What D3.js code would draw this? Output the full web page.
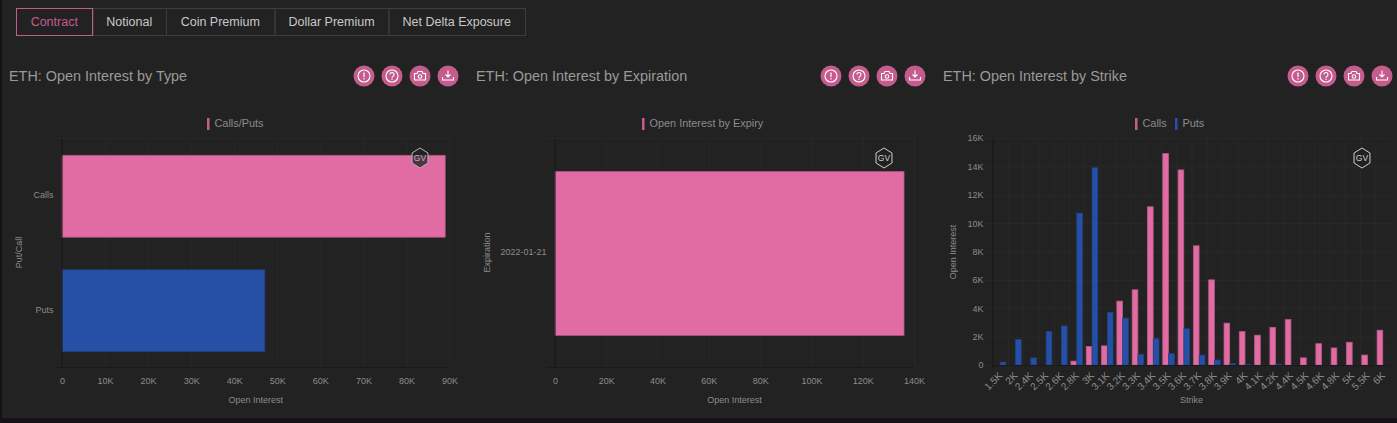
<!DOCTYPE html>
<html><head><meta charset="utf-8">
<script src="https://cdn.jsdelivr.net/npm/d3@7/dist/d3.min.js"></script>
<style>html,body{margin:0;padding:0;background:#141214;overflow:hidden}svg{display:block}text{font-family:"Liberation Sans",Arial,sans-serif}</style>
</head><body><svg id="c" width="1397" height="423"></svg>
<script>
const tabs=["Contract","Notional","Coin Premium","Dollar Premium","Net Delta Exposure"];
const typeCategories=["Calls","Puts"];
const typeValues=[89000,47100];
const expiryCategories=["2022-01-21"];
const expiryValues=[136100];
const strikes=["1.5K","2K","2.4K","2.5K","2.6K","2.8K","3K","3.1K","3.2K","3.3K","3.4K","3.5K","3.6K","3.7K","3.8K","3.9K","4K","4.1K","4.2K","4.4K","4.5K","4.6K","4.8K","5K","5.5K","6K"];
const strikeCalls=[0,0,0,0,0,270,1300,1350,4500,5300,11150,14900,13750,8400,6000,2950,2350,2100,2650,3200,500,1500,1200,1600,700,2450];
const strikePuts=[200,1800,500,2350,2750,10700,13900,3700,3300,750,1850,800,2550,700,350,100,30,0,50,0,0,0,0,0,0,0];

const PINK="#e06ca3",BLUE="#2650a5",ICON="#c55c8e",GRID="#282828",DOMAIN="#1a1a1a",TXT="#8c8c8c";
const svg=d3.select("#c");
const fmt=v=>v===0?"0":(v/1000)+"K";
svg.append("rect").attr("x",2).attr("y",0).attr("width",1395).attr("height",418).attr("fill","#222222");

// tabs
const tabEdges=[16,92.5,166,274.5,388.5,525];
const tg=svg.append("g");
tabs.forEach((t,i)=>{
  const a=tabEdges[i],b=tabEdges[i+1];
  tg.append("rect").attr("x",a+.5).attr("y",8.5).attr("width",b-a).attr("height",27).attr("fill","none").attr("stroke","#3d3d3d");
  tg.append("text").attr("x",(a+b)/2).attr("y",26).attr("text-anchor","middle").attr("font-size",12.5).attr("fill",i==0?"#c55c8e":"#c8c8c8").text(t);
});
tg.append("rect").attr("x",16.5).attr("y",8.5).attr("width",76).attr("height",27).attr("fill","none").attr("stroke","#c55c8e");

function icons(x0){
  const g=svg.append("g").attr("transform",`translate(${x0},76)`);
  [0,28,56,84].forEach((dx,i)=>{
    const h=g.append("g").attr("transform",`translate(${dx},0)`);
    h.append("circle").attr("r",10.5).attr("fill",ICON);
    const st={fill:"none",stroke:"#fff","stroke-width":1.1};
    const ap=s=>{for(const k in st)s.attr(k,st[k]);return s};
    if(i==0){ap(h.append("circle").attr("r",6));h.append("rect").attr("x",-.6).attr("y",-3.5).attr("width",1.2).attr("height",4.5).attr("fill","#fff");h.append("circle").attr("cy",2.8).attr("r",.8).attr("fill","#fff");}
    if(i==1){ap(h.append("circle").attr("r",6));ap(h.append("path").attr("d","M-2,-1.5a2,2 0 1 1 3.2,1.6c-.8,.6 -1.2,1 -1.2,1.8"));h.append("circle").attr("cy",3.2).attr("r",.7).attr("fill","#fff");}
    if(i==2){ap(h.append("path").attr("d","M-5.5,-2.5h2.5l1,-2h4l1,2h2.5v6.5h-11z"));ap(h.append("circle").attr("cy",.5).attr("r",1.8));}
    if(i==3){ap(h.append("path").attr("d","M0,-5.5v6M-2.5,-1.5L0,1L2.5,-1.5M-5.5,1v3h11v-3"));}
  });
}
function logo(cx,cy,col){
  const g=svg.append("g").attr("transform",`translate(${cx},${cy})`);
  const r=10,pts=d3.range(6).map(i=>{const a=Math.PI/3*i-Math.PI/2;return [r*Math.cos(a)*.92,r*Math.sin(a)]});
  g.append("path").attr("d",d3.line()(pts)+"Z").attr("fill","#222").attr("fill-opacity",.75).attr("stroke",col).attr("stroke-width",1);
  g.append("text").attr("y",3).attr("text-anchor","middle").attr("font-size",8.5).attr("fill",col).text("GV");
}
function head(x,title,iconX){
  svg.append("text").attr("x",x).attr("y",81).attr("font-size",14.4).attr("fill","#9a9a9a").text(title);
  icons(iconX);
}
function legend(items){
  items.forEach(d=>{
    svg.append("rect").attr("x",d.x).attr("y",118).attr("width",2.5).attr("height",12).attr("fill",d.c);
    svg.append("text").attr("x",d.x+7.5).attr("y",127).attr("font-size",10.9).attr("fill",TXT).text(d.t);
  });
}
function styleAxis(g){
  g.selectAll("text").attr("fill",TXT).attr("font-size",9).attr("font-family",'"Liberation Sans",Arial,sans-serif');
  g.selectAll(".domain").attr("stroke",DOMAIN);
  g.selectAll(".tick line").attr("stroke",GRID);
}
function hChart(o){
  const g=svg.append("g");
  const x=d3.scaleLinear().domain([0,o.max]).range([o.x0,o.x1]);
  const y=d3.scaleBand().domain(o.cats).range([o.top+1,o.bottom+1]).paddingInner(o.pad).paddingOuter(o.pad/2);
  g.selectAll("line.gx").data(x.ticks(o.n)).join("line").attr("x1",d=>x(d)+.5).attr("x2",d=>x(d)+.5).attr("y1",o.top).attr("y2",o.bottom).attr("stroke",d=>d==0?DOMAIN:GRID);
  g.append("line").attr("x1",o.x0-8).attr("x2",o.x1).attr("y1",o.top+.5).attr("y2",o.top+.5).attr("stroke",GRID);
  g.selectAll("rect.b").data(o.vals).join("rect").attr("x",o.x0).attr("y",(d,i)=>y(o.cats[i])).attr("width",d=>x(d)-o.x0).attr("height",y.bandwidth()).attr("fill",(d,i)=>o.cols[i]).attr("stroke",(d,i)=>d3.color(o.cols[i]).darker(.6)).attr("stroke-width",.8);
  const ax=g.append("g").attr("transform",`translate(0,${o.bottom+.5})`).call(d3.axisBottom(x).ticks(o.n).tickFormat(fmt).tickSize(0).tickPadding(10));
  styleAxis(ax);ax.select(".domain").attr("d",`M${o.x0-8},0H${o.x1}`);
  const ay=g.append("g").attr("transform",`translate(${o.x0-.5},-1)`).call(d3.axisLeft(y).tickSize(0).tickPadding(8));
  styleAxis(ay);
  g.append("text").attr("x",(o.x0+o.x1)/2).attr("y",403).attr("text-anchor","middle").attr("font-size",9).attr("fill",TXT).text(o.xlabel);
  g.append("text").attr("transform",`translate(${o.ylx},${(o.top+o.bottom)/2}) rotate(-90)`).attr("text-anchor","middle").attr("font-size",9).attr("fill",TXT).text(o.ylabel);
}

head(9,"ETH: Open Interest by Type",364);
head(476,"ETH: Open Interest by Expiration",831);
head(943,"ETH: Open Interest by Strike",1298);
legend([{x:207,c:ICON,t:"Calls/Puts"}]);
legend([{x:642,c:ICON,t:"Open Interest by Expiry"}]);
legend([{x:1135,c:ICON,t:"Calls"},{x:1175,c:BLUE,t:"Puts"}]);

hChart({x0:62,x1:449.5,max:90000,n:9,top:138,bottom:367,cats:typeCategories,vals:typeValues,cols:[PINK,BLUE],pad:.285,xlabel:"Open Interest",ylabel:"Put/Call",ylx:22});
hChart({x0:555,x1:914,max:140000,n:7,top:138,bottom:367,cats:expiryCategories,vals:expiryValues,cols:[PINK],pad:.285,xlabel:"Open Interest",ylabel:"Expiration",ylx:490});

// strike chart
(function(){
  const L=992.5,R=1390.5,T=138,B=365;
  const g=svg.append("g");
  const x=d3.scaleBand().domain(strikes).range([L,R]);
  const y=d3.scaleLinear().domain([0,16000]).range([B,T]);
  const inner=d3.scaleBand().domain(["c","p"]).range([x.bandwidth()/2-5.75,x.bandwidth()/2+5.75]).paddingInner(.03);
  g.selectAll("line.gy").data(y.ticks(8)).join("line").attr("x1",L-8).attr("x2",R).attr("y1",d=>Math.round(y(d))+.5).attr("y2",d=>Math.round(y(d))+.5).attr("stroke",GRID);
  g.selectAll("line.gx").data(strikes).join("line").attr("x1",d=>x(d)+.5).attr("x2",d=>x(d)+.5).attr("y1",T).attr("y2",B+5).attr("stroke",(d,i)=>i==0?DOMAIN:GRID);
  [[strikeCalls,"c",PINK],[strikePuts,"p",BLUE]].forEach(([vals,k,col])=>{
    g.selectAll("rect."+k).data(vals).join("rect").attr("class",k)
      .attr("x",(d,i)=>x(strikes[i])+inner(k)).attr("y",d=>y(d)).attr("width",inner.bandwidth()).attr("height",d=>B-y(d))
      .attr("fill",col).attr("stroke",d=>d>0?d3.color(col).darker(.5):"none").attr("stroke-width",.8);
  });
  const ax=g.append("g").attr("transform",`translate(0,${B+.5})`).call(d3.axisBottom(x).tickSize(0).tickPadding(6).tickFormat(d=>d));
  styleAxis(ax);ax.select(".domain").attr("d",`M${L},0H${R}`);
  ax.selectAll("text").attr("font-size",10).attr("text-anchor","end").attr("transform","translate(-5,3) rotate(-45)").attr("dy",".5em");
  const ay=g.append("g").attr("transform",`translate(${L},0)`).call(d3.axisLeft(y).ticks(8).tickFormat(fmt).tickSize(0).tickPadding(9));
  styleAxis(ay);
  g.append("text").attr("x",1191.5).attr("y",403).attr("text-anchor","middle").attr("font-size",9).attr("fill",TXT).text("Strike");
  g.append("text").attr("transform",`translate(956,${(T+B)/2+.5}) rotate(-90)`).attr("text-anchor","middle").attr("font-size",9).attr("fill",TXT).text("Open Interest");
})();
logo(420,158,"#b5b5b5");logo(884,158,"#cfcfcf");logo(1362,158,"#cfcfcf");
</script></body></html>
